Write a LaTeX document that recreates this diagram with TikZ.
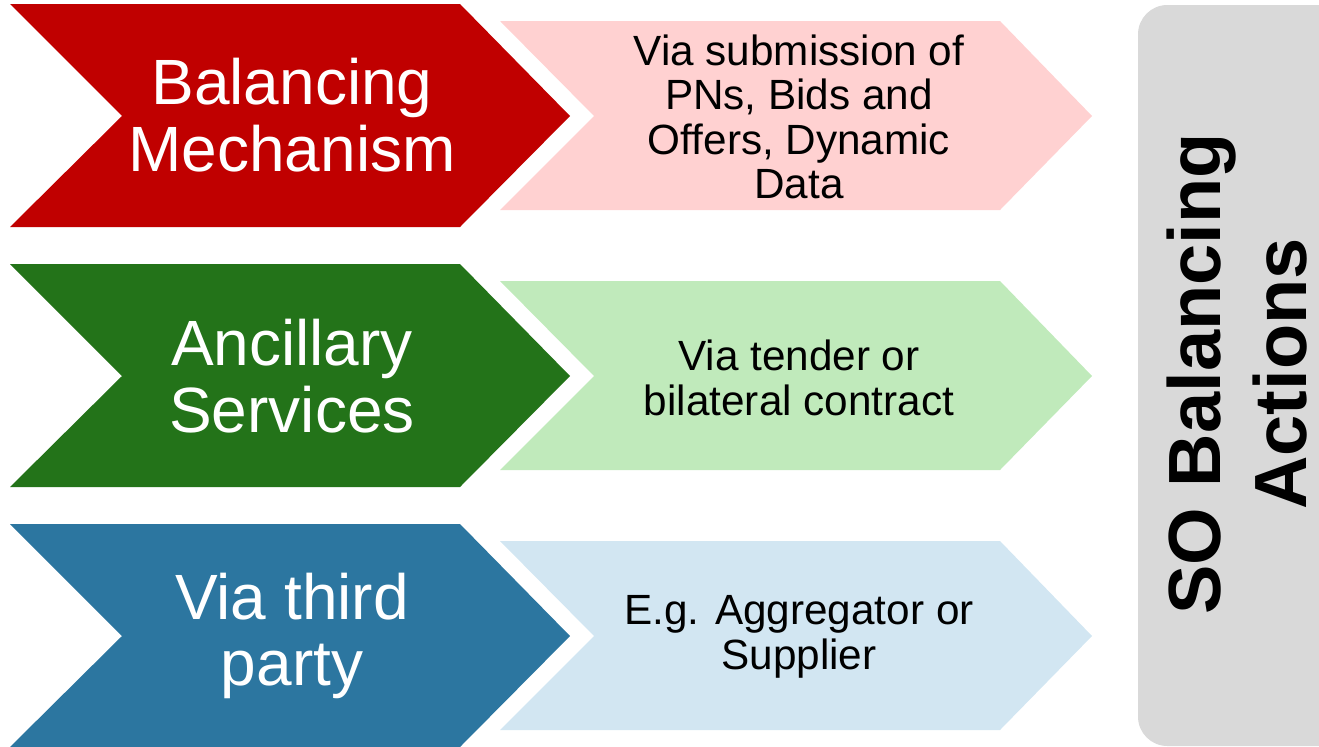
\documentclass[tikz,border=0pt]{standalone}
\usepackage{fontspec}
\setmainfont{Liberation Sans}

\definecolor{bmred}{HTML}{C00000}
\definecolor{bmpink}{HTML}{FFD1D1}
\definecolor{asgreen}{HTML}{237319}
\definecolor{aslight}{HTML}{C0EABB}
\definecolor{tpblue}{HTML}{2C76A0}
\definecolor{tplight}{HTML}{D2E6F2}
\definecolor{sogray}{HTML}{D9D9D9}

\tikzset{
  headtext/.style={text=white, align=center, font=\fontsize{48}{50}\selectfont},
  detailtext/.style={text=black, align=center, font=\fontsize{31.7}{33.4}\selectfont},
}

\begin{document}
\begin{tikzpicture}[x=0.75pt, y=-0.75pt]
  \useasboundingbox (0,0) rectangle (1319,746);

  % grey bar on the right, cut off by the page edge
  \fill[sogray, rounded corners=22pt] (1138,5) rectangle (1360,746);

  % one dark and one light chevron per row
  \foreach \row/\dark/\light in {0/bmred/bmpink, 260/asgreen/aslight, 520/tpblue/tplight} {
    \fill[\dark] (10,4+\row) -- (460,4+\row) -- (570,116+\row) -- (460,227+\row)
      -- (10,227+\row) -- (122,116+\row) -- cycle;
    \fill[\light] (500,21+\row) -- (1000,21+\row) -- (1092,116+\row) -- (1000,210+\row)
      -- (500,210+\row) -- (594,116+\row) -- cycle;
  }

  \node[headtext] (mechanism) at (292,115) {Balancing\\Mechanism};
  \node[detailtext] (mechvia) at (799,117) {Via submission of\\PNs, Bids and\\Offers, Dynamic\\Data};

  \node[headtext] (ancillary) at (292,376) {Ancillary\\Services};
  \node[detailtext] (ancvia) at (799,378) {Via tender or\\bilateral contract};

  \node[headtext] (thirdparty) at (292,636) {Via third\\party};
  \node[detailtext] (thirdvia) at (799,637) {E.g. Aggregator or\\Supplier};

  \node[rotate=90, inner sep=0pt, align=center, font=\bfseries\fontsize{55.5}{64.5}\selectfont] (soactions) at (1237,374) {SO Balancing\\Actions};
\end{tikzpicture}
\end{document}
